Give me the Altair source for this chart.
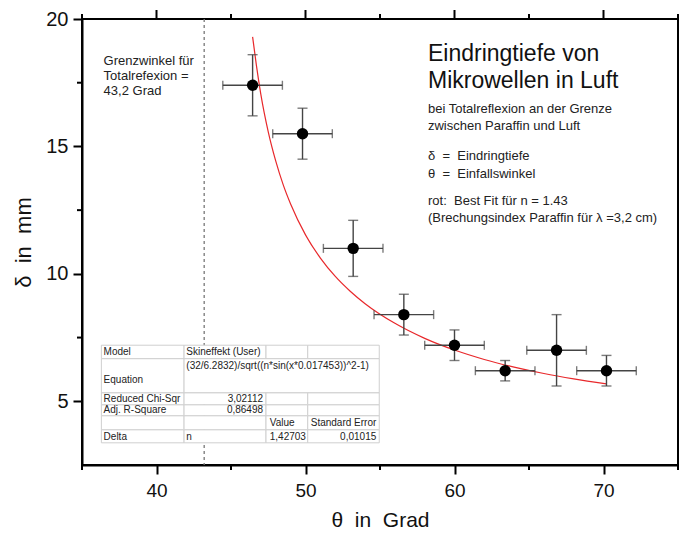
import altair as alt
import pandas as pd

FONT = "Liberation Sans"
INK = "#111111"
SP = "\u00a0"

# ---- measured data ----
theta_deg = [46.45, 49.8, 53.2, 56.6, 60.0, 63.4, 66.85, 70.2]
delta_mm = [17.4, 15.5, 11.0, 8.4, 7.2, 6.2, 7.0, 6.2]
theta_err = [2.0, 2.0, 2.0, 2.0, 2.0, 2.0, 2.0, 2.0]
delta_err = [1.2, 1.0, 1.1, 0.8, 0.6, 0.4, 1.4, 0.6]

# ---- red fit curve ----
fit_theta = [46.45, 46.7, 47.0, 47.5, 48.0, 48.5, 49.0, 50.0, 51.0, 52.0, 53.0,
             54.0, 56.0, 58.0, 60.0, 62.0, 64.0, 66.0, 68.0, 70.2]
fit_delta = [19.3, 18.2, 17.05, 15.57, 14.43, 13.5, 12.74, 11.53, 10.62, 9.9, 9.32,
             8.83, 8.06, 7.47, 7.01, 6.64, 6.34, 6.09, 5.88, 5.68]

grenzwinkel = [43.2]

x_major = [40, 50, 60, 70]
x_minor = [35, 45, 55, 65, 75]
y_major = [5, 10, 15, 20]
y_minor = [7.5, 12.5, 17.5]

# ---- fit table (Origin style) ----
table_cols = [36.30, 41.85, 47.35, 50.15, 54.95]
table_rows = [7.20, 6.67, 5.33, 4.86, 4.43, 3.88, 3.37]
table_left_text = ["Model", "Skineffekt (User)", "(32/6.2832)/sqrt((n*sin(x*0.017453))^2-1)",
                   "Equation", "Reduced Chi-Sqr", "Adj. R-Square", "Value", "Standard Error",
                   "Delta", "n", "1,42703"]
table_left_x = [36.45, 42.0, 42.0, 36.45, 36.45, 36.45, 47.6, 50.35, 36.45, 42.0, 47.6]
table_left_y = [6.94, 6.94, 6.39, 5.84, 5.10, 4.67, 4.16, 4.16, 3.61, 3.61, 3.61]
table_right_text = ["3,02112", "0,86498", "0,01015"]
table_right_x = [47.15, 47.15, 54.75]
table_right_y = [5.10, 4.67, 3.61]

# ---- annotations ----
note_lines = ["Grenzwinkel für", "Totalrefexion =", "43,2 Grad"]
note_x = [36.45, 36.45, 36.45]
note_y = [18.2, 17.61, 17.02]
head_lines = ["Eindringtiefe von", "Mikrowellen in Luft"]
head_x = [58.22, 58.22]
head_y = [18.37, 17.28]
body_lines = ["bei Totalreflexion an der Grenze", "zwischen Paraffin und Luft",
              "δ" + SP + SP + "=" + SP + SP + "Eindringtiefe",
              "θ" + SP + SP + "=" + SP + SP + "Einfallswinkel",
              "rot:" + SP + SP + "Best Fit für n = 1.43",
              "(Brechungsindex Paraffin für λ =3,2 cm)"]
body_x = [58.22] * 6
body_y = [16.30, 15.65, 14.47, 13.78, 12.71, 12.03]

W, H = 596, 446

x_scale = alt.Scale(domain=[35, 75], nice=False, zero=False)
y_scale = alt.Scale(domain=[2.5, 20], nice=False, zero=False)

x_axis = alt.Axis(values=x_major, tickSize=9, tickWidth=2, tickColor="black",
                  domainColor="black", domainWidth=2, grid=False,
                  labelFontSize=19, labelFont=FONT, labelColor=INK, labelPadding=22,
                  labelBaseline="alphabetic",
                  title="θ" + SP + SP + "in" + SP + SP + "Grad", titleFontSize=21, titleFont=FONT,
                  titleFontWeight="normal", titleColor=INK,
                  titleBaseline="alphabetic", titleY=61)
y_axis = alt.Axis(values=y_major, tickSize=9, tickWidth=2, tickColor="black",
                  domainColor="black", domainWidth=2, grid=False,
                  labelFontSize=20, labelFont=FONT, labelColor=INK, labelPadding=5,
                  title="δ" + SP + SP + "in" + SP + SP + "mm", titleFontSize=22, titleFont=FONT,
                  titleFontWeight="normal", titleColor=INK, titleAngle=270,
                  titleAlign="center", titleBaseline="alphabetic",
                  titleX=-52, titleY=H / 2)


def X(f="x"):
    return alt.X(f, type="quantitative", scale=x_scale, axis=x_axis)


def Y(f="y"):
    return alt.Y(f, type="quantitative", scale=y_scale, axis=y_axis)


pts = pd.DataFrame({"x": theta_deg, "y": delta_mm, "ex": theta_err, "ey": delta_err})
pts["xl"] = pts["x"] - pts["ex"]
pts["xh"] = pts["x"] + pts["ex"]
pts["yl"] = pts["y"] - pts["ey"]
pts["yh"] = pts["y"] + pts["ey"]

fit = pd.DataFrame({"x": fit_theta, "y": fit_delta})

# table cells
cells = []
for i in range(len(table_rows) - 1):
    spans = [(0, 1), (1, 4)] if i == 1 else [(0, 1), (1, 2), (2, 3), (3, 4)]
    for a, b in spans:
        cells.append({"x": table_cols[a], "x2": table_cols[b],
                      "y": table_rows[i], "y2": table_rows[i + 1]})
cells = pd.DataFrame(cells)

tl = pd.DataFrame({"x": table_left_x, "y": table_left_y, "t": table_left_text})
tr = pd.DataFrame({"x": table_right_x, "y": table_right_y, "t": table_right_text})
note = pd.DataFrame({"x": note_x, "y": note_y, "t": note_lines})
head = pd.DataFrame({"x": head_x, "y": head_y, "t": head_lines})
body = pd.DataFrame({"x": body_x, "y": body_y, "t": body_lines})

gw = pd.DataFrame({"x": grenzwinkel})
xmaj = pd.DataFrame({"x": x_major})
xmin = pd.DataFrame({"x": x_minor})
ymin = pd.DataFrame({"y": y_minor})

dashed = alt.Chart(gw).mark_rule(color="#777777", strokeWidth=1.3, strokeDash=[3, 3]).encode(
    x=X(), y=alt.value(0), y2=alt.value(H))

table_rect = alt.Chart(cells).mark_rect(fill="white", stroke="#cfcfcf", strokeWidth=1).encode(
    x=X(), x2="x2", y=Y(), y2="y2")

table_txt_l = alt.Chart(tl).mark_text(align="left", baseline="middle", font=FONT,
                                      fontSize=10, color="#222222").encode(
    x=X(), y=Y(), text="t")
table_txt_r = alt.Chart(tr).mark_text(align="right", baseline="middle", font=FONT,
                                      fontSize=10, color="#222222").encode(
    x=X(), y=Y(), text="t")

curve = alt.Chart(fit).mark_line(color="#e8282b", strokeWidth=1.2, interpolate="monotone").encode(
    x=X(), y=Y())

eb_h = alt.Chart(pts).mark_rule(color="#444444", strokeWidth=1.4).encode(
    x=X("xl"), x2="xh", y=Y())
eb_v = alt.Chart(pts).mark_rule(color="#444444", strokeWidth=1.4).encode(
    x=X(), y=Y("yl"), y2="yh")
cap_l = alt.Chart(pts).mark_tick(color="#444444", thickness=1.4, size=9, orient="vertical").encode(
    x=X("xl"), y=Y())
cap_r = alt.Chart(pts).mark_tick(color="#444444", thickness=1.4, size=9, orient="vertical").encode(
    x=X("xh"), y=Y())
cap_b = alt.Chart(pts).mark_tick(color="#444444", thickness=1.4, size=10, orient="horizontal").encode(
    x=X(), y=Y("yl"))
cap_t = alt.Chart(pts).mark_tick(color="#444444", thickness=1.4, size=10, orient="horizontal").encode(
    x=X(), y=Y("yh"))

dots = alt.Chart(pts).mark_circle(color="black", opacity=1, size=130).encode(x=X(), y=Y())

note_t = alt.Chart(note).mark_text(align="left", baseline="alphabetic", font=FONT,
                                   fontSize=13, color="#222222").encode(x=X(), y=Y(), text="t")
head_t = alt.Chart(head).mark_text(align="left", baseline="alphabetic", font=FONT,
                                   fontSize=23, color="#111111").encode(x=X(), y=Y(), text="t")
body_t = alt.Chart(body).mark_text(align="left", baseline="alphabetic", font=FONT,
                                   fontSize=13, color="#222222").encode(x=X(), y=Y(), text="t")

# minor / mirrored ticks
bot_minor = alt.Chart(xmin).mark_rule(color="black", strokeWidth=2).encode(
    x=X(), y=alt.value(H), y2=alt.value(H + 5))
top_major = alt.Chart(xmaj).mark_rule(color="black", strokeWidth=2).encode(
    x=X(), y=alt.value(0), y2=alt.value(-9))
top_minor = alt.Chart(xmin).mark_rule(color="black", strokeWidth=2).encode(
    x=X(), y=alt.value(0), y2=alt.value(-5))
left_minor = alt.Chart(ymin).mark_rule(color="black", strokeWidth=2).encode(
    y=Y(), x=alt.value(0), x2=alt.value(-5))

chart = alt.layer(
    dashed, table_rect, table_txt_l, table_txt_r, curve,
    eb_h, eb_v, cap_l, cap_r, cap_b, cap_t, dots,
    note_t, head_t, body_t,
    bot_minor, top_major, top_minor, left_minor,
).properties(
    width=W, height=H,
    padding={"left": 74, "top": 11, "right": 5, "bottom": 66},
    autosize=alt.AutoSizeParams(type="none"),
    background="white",
).configure_view(stroke="black", strokeWidth=2)

chart.save("out.html", embed_options={"renderer": "svg", "actions": False})
